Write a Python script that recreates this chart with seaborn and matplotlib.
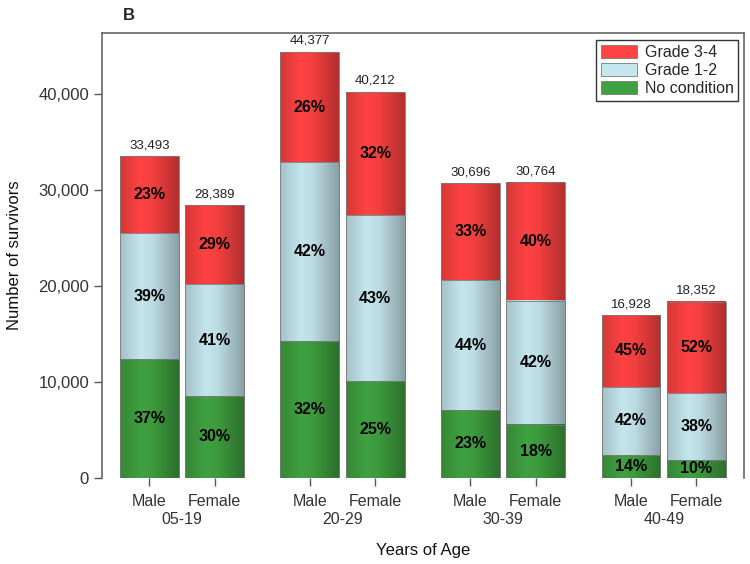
import numpy as np
import pandas as pd
import matplotlib
matplotlib.use('Agg')
import matplotlib.pyplot as plt
import matplotlib.transforms as mtransforms
from matplotlib.patches import Patch
import seaborn as sns

# Data
age_groups = ['05-19', '20-29', '30-39', '40-49']
sexes = ['Male', 'Female']
totals = [33493, 28389, 44377, 40212, 30696, 30764, 16928, 18352]
pct_none = [37, 30, 32, 25, 23, 18, 14, 10]
pct_g12 = [39, 41, 42, 43, 44, 42, 42, 38]
pct_g34 = [23, 29, 26, 32, 33, 40, 45, 52]

group_step = 2.46

rows = []
for i, total in enumerate(totals):
    g, s = divmod(i, 2)
    none = total * pct_none[i] / 100
    g12 = total * pct_g12[i] / 100
    rows.append({'age': age_groups[g], 'sex': sexes[s], 'pos': g * group_step + s,
                 'total': total, 'none': none, 'upto_g12': none + g12})
df = pd.DataFrame(rows)

sns.set_style('white')
plt.rcParams['font.family'] = ['Liberation Sans', 'DejaVu Sans']

fig = plt.figure(figsize=(7.5, 5.64), dpi=100)
ax = fig.add_axes([0.1355, 0.1530, 0.8565, 0.7880])

# layers drawn from the top down, each covering the lower part
layers = [
    ('total', 'Grade 3-4', (1.00, 0.26, 0.26)),
    ('upto_g12', 'Grade 1-2', (0.77, 0.90, 0.93)),
    ('none', 'No condition', (0.25, 0.63, 0.25)),
]

# horizontal shading profile to give the bars a rounded look
t = np.linspace(0, 1, 64)
shade = np.interp(t, [0, 0.35, 0.55, 1], [0.84, 1.0, 0.96, 0.70])

for k, (col, lab, base) in enumerate(layers):
    n0 = len(ax.patches)
    sns.barplot(data=df, x='pos', y=col, native_scale=True, width=0.9,
                color=base, saturation=1, errorbar=None,
                edgecolor='#7a7a7a', linewidth=0.6, ax=ax)
    grad = np.clip(np.array(base)[None, :] * shade[:, None], 0, 1)[None, :, :]
    for p in ax.patches[n0:]:
        x0, y0 = p.get_x(), p.get_y()
        w, h = p.get_width(), p.get_height()
        ax.imshow(grad, extent=[x0, x0 + w, y0, y0 + h], aspect='auto',
                  interpolation='bilinear', zorder=2 + k)
        p.set_facecolor('none')
        p.set_zorder(2.5 + k)

# percentage labels in segment middles
for i, r in df.iterrows():
    mids = [r['none'] / 2, (r['none'] + r['upto_g12']) / 2, (r['upto_g12'] + r['total']) / 2]
    for m, pct in zip(mids, [pct_none[i], pct_g12[i], pct_g34[i]]):
        ax.text(r['pos'], m, f'{pct}%', ha='center', va='center',
                fontsize=11.5, fontweight='bold', color='black', zorder=10)
    ax.text(r['pos'], r['total'] + 500, f"{r['total']:,}", ha='center', va='bottom',
            fontsize=9.5, color='#222222', zorder=10)

ax.set_xlim(-0.73, 3 * group_step + 1 + 0.73)
ax.set_ylim(0, 46300)
ax.set_yticks([0, 10000, 20000, 30000, 40000])
ax.set_yticklabels(['0', '10,000', '20,000', '30,000', '40,000'], fontsize=12, color='#333333')
ax.set_xticks(df['pos'])
ax.set_xticklabels(df['sex'], fontsize=11.5, color='#333333')
ax.tick_params(axis='both', direction='out', length=6, width=1, color='#555555',
               left=True, bottom=True)
ax.tick_params(axis='x', pad=6)
ax.tick_params(axis='y', pad=3)

# age group labels under the sex labels
trans = mtransforms.blended_transform_factory(ax.transData, ax.transAxes)
for g, age in enumerate(age_groups):
    ax.annotate(age, xy=(g * group_step + 0.5, 0), xycoords=trans,
                xytext=(0, -30), textcoords='offset points',
                ha='center', va='center', fontsize=11.5, color='#333333')

ax.set_xlabel('Years of Age', fontsize=12, labelpad=24, color='#111111')
ax.set_ylabel('Number of survivors', fontsize=12, labelpad=12, color='#111111')

for side in ['left', 'top', 'right']:
    ax.spines[side].set_visible(True)
    ax.spines[side].set_color('#666666')
    ax.spines[side].set_linewidth(1.2)
ax.spines['bottom'].set_visible(False)

handles = [Patch(facecolor=base, edgecolor='#7a7a7a', linewidth=0.6, label=lab)
           for _, lab, base in layers]
leg = ax.legend(handles=handles, loc='upper right', bbox_to_anchor=(0.991, 0.985),
                borderaxespad=0, fontsize=11.5, frameon=True, fancybox=False,
                edgecolor='black', handlelength=2.3, handleheight=0.9,
                labelspacing=0.18, handletextpad=0.45, borderpad=0.3)
leg.get_frame().set_linewidth(1.0)
leg.set_zorder(20)

fig.text(0.164, 0.965, 'B', fontsize=12, fontweight='bold', ha='left', va='baseline')

fig.savefig('out.png', dpi=100)
